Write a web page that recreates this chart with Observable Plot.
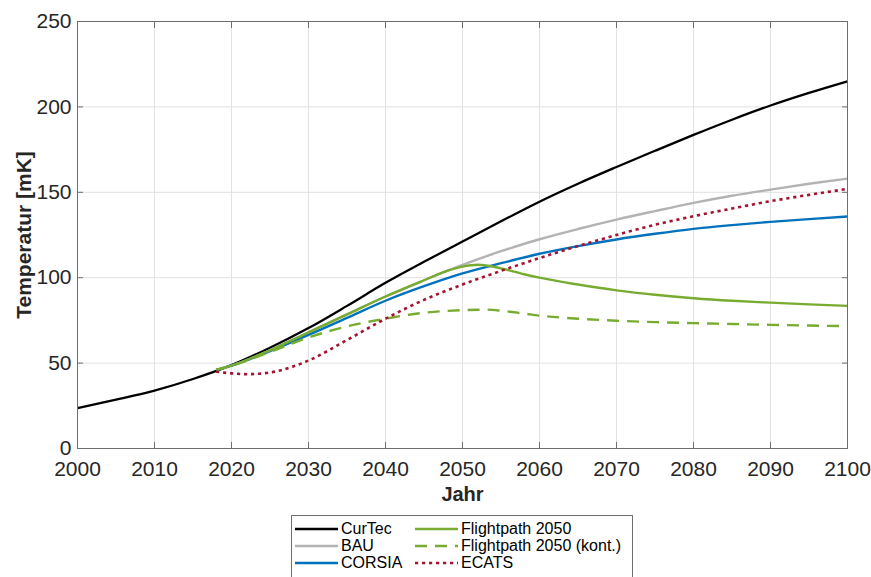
<!DOCTYPE html>
<html><head><meta charset="utf-8">
<script src="https://cdn.jsdelivr.net/npm/d3@7"></script>
<script src="https://cdn.jsdelivr.net/npm/@observablehq/plot@0.6"></script>
<style>
body{margin:0;background:#fff;font-family:"Liberation Sans",Arial,Helvetica,sans-serif;}
#wrap{position:relative;width:871px;height:577px;overflow:hidden;background:#fff;}
#legend{position:absolute;left:291px;top:515px;width:340px;height:70px;border:1px solid #6e6e6e;background:#fff;}
.item{position:absolute;height:17px;display:flex;align-items:center;font-size:16px;color:#000;white-space:nowrap;}
.item svg{margin-right:3px;}
</style></head><body><div id="wrap"></div>
<script>
// ---- data ----
const xTicks = [2000, 2010, 2020, 2030, 2040, 2050, 2060, 2070, 2080, 2090, 2100];
const yTicks = [0, 50, 100, 150, 200, 250];

const curtecYears  = [2000,2005,2010,2015,2020,2025,2030,2035,2040,2045,2050,2055,2060,2065,2070,2075,2080,2085,2090,2095,2100];
const curtecValues = [23.7,28.6,33.9,40.7,48.8,59,70.5,83.5,97,109.3,121.2,133,144.5,155,164.8,174.3,183.6,192.5,200.8,208.2,215];

const bauYears  = [2018,2020,2025,2030,2035,2040,2045,2048,2050,2055,2060,2065,2070,2075,2080,2085,2090,2095,2100];
const bauValues = [46,48.5,57.5,68,78.5,89,98.5,104,107.5,115.5,122.5,128.5,134,139,143.8,148,151.6,155,158];

const corsiaYears  = [2018,2020,2025,2030,2035,2040,2045,2050,2055,2060,2065,2070,2075,2080,2085,2090,2095,2100];
const corsiaValues = [46,48.5,57,66.5,76.5,86.5,95,102.5,108.5,114,118.5,122.4,125.7,128.6,130.8,132.7,134.3,135.8];

const fpYears  = [2018,2020,2025,2030,2035,2040,2045,2048,2050,2052,2055,2058,2060,2065,2070,2075,2080,2085,2090,2095,2100];
const fpValues = [46,48.5,57.5,68,78.5,89,98.5,104,106.5,107.6,105.5,102,100,96,92.6,90,88,86.5,85.4,84.4,83.5];

const fpkYears  = [2018,2020,2025,2030,2035,2040,2045,2050,2053,2055,2058,2060,2063,2065,2070,2075,2080,2085,2090,2095,2100];
const fpkValues = [46,48.5,56.5,65,71.5,76,79.5,81,81.3,80.7,79,77.8,76.6,76,74.8,74,73.4,72.9,72.4,72,71.6];

const ecatsYears  = [2018,2020,2022,2025,2028,2030,2035,2040,2045,2050,2055,2060,2065,2070,2075,2080,2085,2090,2095,2100];
const ecatsValues = [45,44,43.5,44.5,48,51.5,63.5,76,87,96,104,111.5,118.5,125,131,136,140.5,144.8,148.5,152];

const seriesNames  = ["CurTec", "BAU", "CORSIA", "Flightpath 2050", "Flightpath 2050 (kont.)", "ECATS"];
const seriesColors = ["#000000", "#b3b3b3", "#0072bd", "#77ac30", "#77ac30", "#a2142f"];
const seriesDash   = [null, null, null, null, "12,8", "3.2,3.8"];
const seriesWidth  = [2.3, 2.4, 2.4, 2.4, 2.4, 2.6];
const seriesYears  = [curtecYears, bauYears, corsiaYears, fpYears, fpkYears, ecatsYears];
const seriesValues = [curtecValues, bauValues, corsiaValues, fpValues, fpkValues, ecatsValues];

const xLabel = "Jahr";
const yLabel = "Temperatur [mK]";

// ---- build ----
const tables = seriesNames.map((name, s) =>
  seriesYears[s].map((year, i) => ({series: name, year, value: seriesValues[s][i]})));

const lineMarks = tables.map((rows, s) => Plot.line(rows, {
  x: "year", y: "value", curve: "monotone-x",
  stroke: seriesColors[s], strokeWidth: seriesWidth[s],
  strokeDasharray: seriesDash[s] ?? undefined, strokeLinecap: "butt"
}));

const axisColor = "#6e6e6e";
const chart = Plot.plot({
  width: 871, height: 508,
  marginLeft: 77, marginRight: 24, marginTop: 21, marginBottom: 60,
  style: {fontFamily: "'Liberation Sans', Arial, Helvetica, sans-serif", color: "#262626", background: "#fff", overflow: "visible"},
  x: {domain: [2000, 2100], label: null},
  y: {domain: [0, 250], label: null},
  marks: [
    Plot.gridX({ticks: xTicks, stroke: "#e2e2e2", strokeOpacity: 1}),
    Plot.gridY({ticks: yTicks, stroke: "#e2e2e2", strokeOpacity: 1}),
    ...lineMarks,
    Plot.frame({stroke: axisColor}),
    Plot.axisX({ticks: xTicks, anchor: "bottom", tickSize: 0, tickPadding: 13, fontSize: 21, tickFormat: d => String(d), label: null}),
    Plot.axisY({ticks: yTicks, anchor: "left", tickSize: 0, tickPadding: 6, fontSize: 21, label: null}),
    Plot.axisX({ticks: xTicks, anchor: "bottom", tickSize: 6, insetBottom: 6, text: null, stroke: axisColor, label: null}),
    Plot.axisX({ticks: xTicks, anchor: "top", tickSize: 6, insetTop: 6, text: null, stroke: axisColor, label: null}),
    Plot.axisY({ticks: yTicks, anchor: "left", tickSize: 6, insetLeft: 6, text: null, stroke: axisColor, label: null}),
    Plot.axisY({ticks: yTicks, anchor: "right", tickSize: 6, insetRight: 6, text: null, stroke: axisColor, label: null}),
    Plot.text([xLabel], {frameAnchor: "bottom", dy: 46, lineAnchor: "middle", textAnchor: "middle", fontWeight: "bold", fontSize: 20, fill: "#262626"}),
    Plot.text([yLabel], {frameAnchor: "left", dx: -53, rotate: -90, lineAnchor: "middle", textAnchor: "middle", fontWeight: "bold", fontSize: 21, fill: "#262626"})
  ]
});

const wrap = document.getElementById("wrap");
wrap.appendChild(chart);

// ---- legend ----
const legend = document.createElement("div");
legend.id = "legend";
const colLeft = [3, 123];
const rowTop = [4.5, 21.5, 38.5];
seriesNames.forEach((name, s) => {
  const col = Math.floor(s / 3), row = s % 3;
  const item = document.createElement("div");
  item.className = "item";
  item.style.left = colLeft[col] + "px";
  item.style.top = rowTop[row] + "px";
  const svg = d3.create("svg").attr("width", 43).attr("height", 10);
  svg.append("line").attr("x1", 0).attr("x2", 43).attr("y1", 5).attr("y2", 5)
    .attr("stroke", seriesColors[s]).attr("stroke-width", seriesWidth[s])
    .attr("stroke-dasharray", seriesDash[s]);
  item.appendChild(svg.node());
  const span = document.createElement("span");
  span.textContent = name;
  item.appendChild(span);
  legend.appendChild(item);
});
wrap.appendChild(legend);
</script>
</body></html>
